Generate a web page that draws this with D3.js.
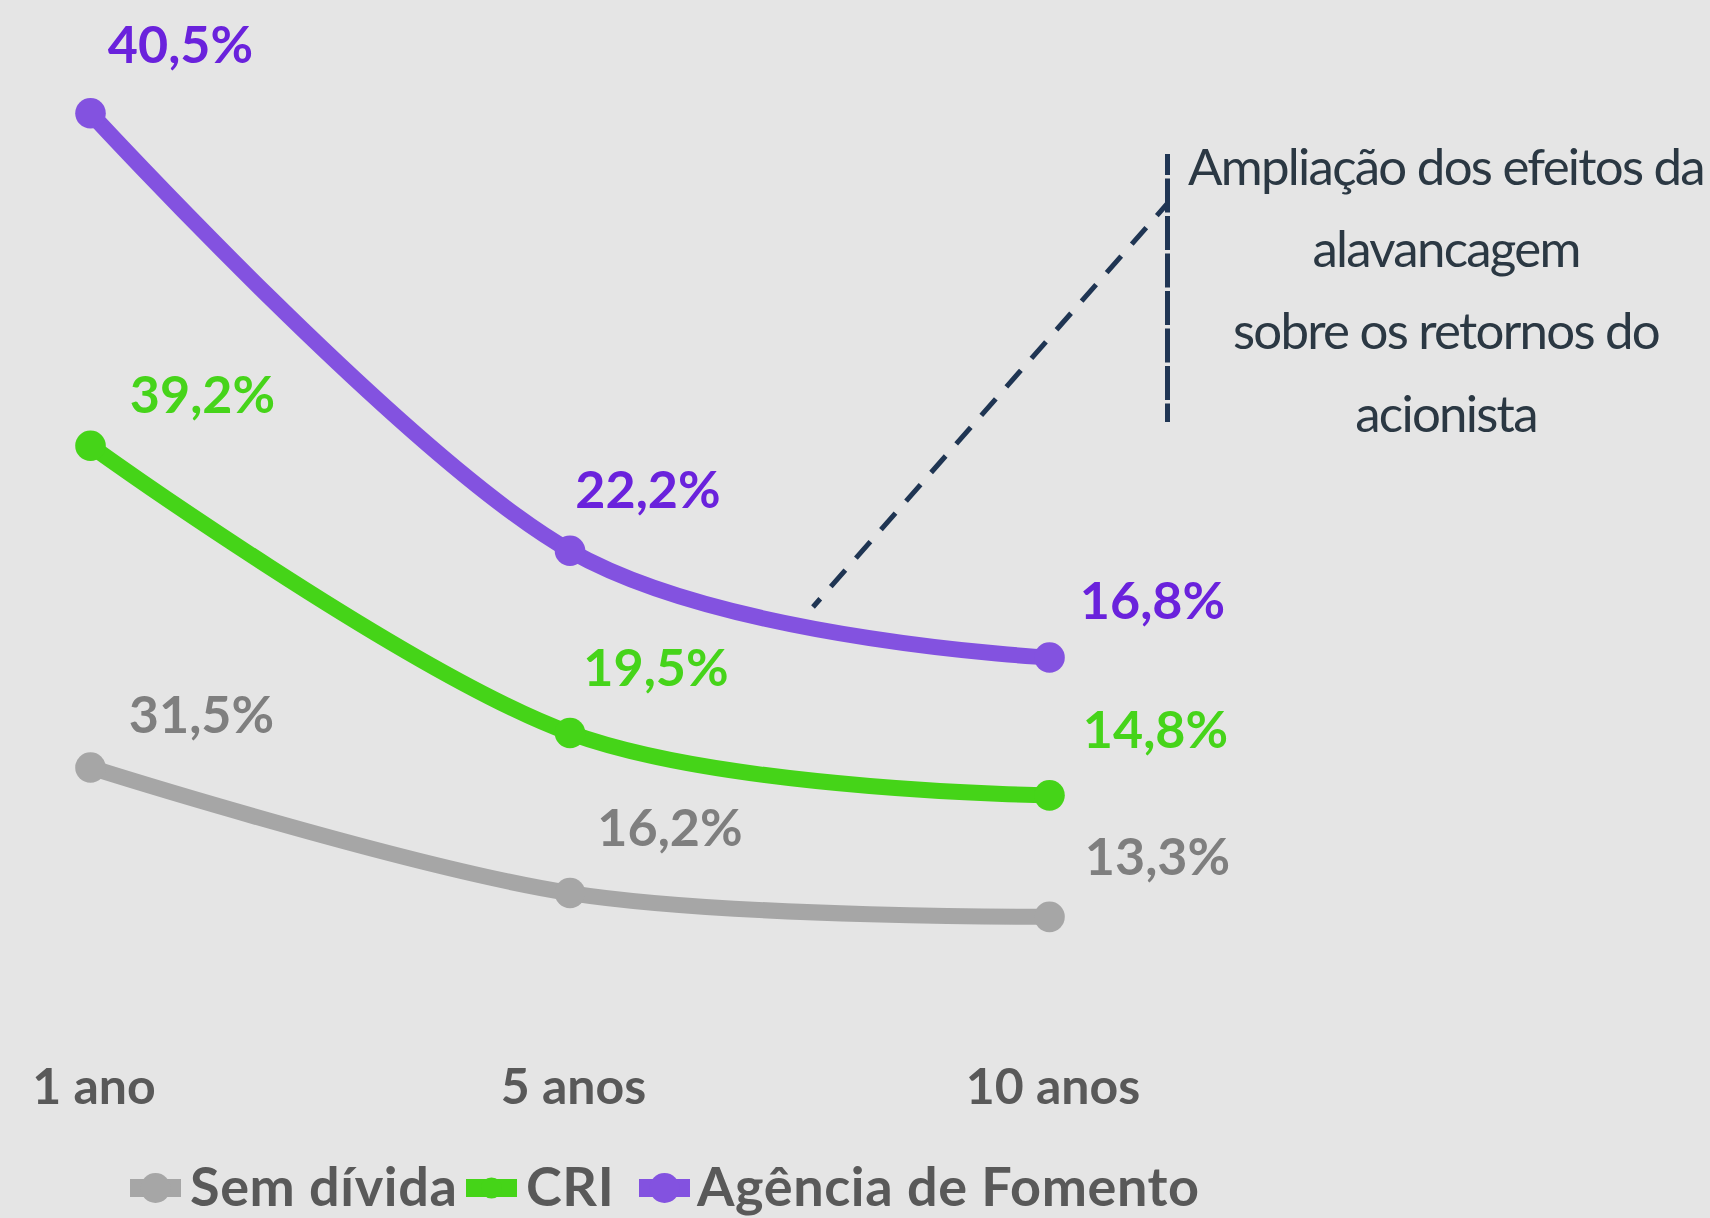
<!DOCTYPE html>
<html lang="pt">
<head>
<meta charset="utf-8">
<script src="https://cdn.jsdelivr.net/npm/d3@7"></script>
<style>
  html, body { margin: 0; padding: 0; background: #e5e5e5; }
  svg { display: block; }
  text { font-family: Lato, "Noto Sans", sans-serif; }
</style>
</head>
<body>
<svg id="chart" width="1710" height="1218"></svg>
<script>
// Categories (x axis) and series, in drawing order
const categories = ["1 ano", "5 anos", "10 anos"];
const seriesNames = ["Sem dívida", "CRI", "Agência de Fomento"];

// Return for each scenario (%), per series
const semDivida = [31.5, 16.2, 13.3];
const cri = [39.2, 19.5, 14.8];
const agenciaFomento = [40.5, 22.2, 16.8];

// Annotation text lines
const noteLines = ["Ampliação dos efeitos da", "alavancagem", "sobre os retornos do", "acionista"];

// Styling per series
const lineColors = { "Sem dívida": "#a6a6a6", "CRI": "#45d418", "Agência de Fomento": "#8352e0" };
const labelColors = { "Sem dívida": "#7f7f7f", "CRI": "#46d41a", "Agência de Fomento": "#6a22dc" };
const legendMarkerR = { "Sem dívida": 15, "CRI": 10.5, "Agência de Fomento": 15 };

// Manual label nudges (dx to label centre, dy to baseline) per series and category
const labelNudge = {
  "Sem dívida":         [[111, -34], [100, -47], [108, -42]],
  "CRI":                [[112, -33], [86, -47], [106, -47]],
  "Agência de Fomento": [[90, -50], [78, -43], [103, -38]]
};

const rows = categories.map((c, i) => ({
  cat: c,
  "Sem dívida": semDivida[i],
  "CRI": cri[i],
  "Agência de Fomento": agenciaFomento[i]
}));

const W = 1710, H = 1218;
const svg = d3.select("#chart");
svg.append("rect").attr("width", W).attr("height", H).attr("fill", "#e5e5e5");

// Stacked line chart
const stacked = d3.stack().keys(seriesNames)(rows);

const x = d3.scalePoint().domain(categories).range([90.5, 1049.5]).padding(0);
const y = d3.scaleLinear().domain([0, 125]).range([1026, 0]);

const ptBR = d3.formatLocale({ decimal: ",", thousands: ".", grouping: [3], currency: ["R$", ""] });
const fmt = v => ptBR.format(".1f")(v) + "%";

const line = d3.line()
  .x(d => x(d.data.cat))
  .y(d => y(d[1]))
  .curve(d3.curveCardinal.tension(0));

const gSeries = svg.append("g").selectAll("g").data(stacked).join("g");

gSeries.append("path")
  .attr("d", line)
  .attr("fill", "none")
  .attr("stroke", s => lineColors[s.key])
  .attr("stroke-width", 16)
  .attr("stroke-linecap", "butt");

gSeries.selectAll("circle")
  .data(s => s.map(d => ({ key: s.key, d })))
  .join("circle")
  .attr("cx", p => x(p.d.data.cat))
  .attr("cy", p => y(p.d[1]))
  .attr("r", 15.3)
  .attr("fill", p => lineColors[p.key]);

// Value labels (own value of each series, placed at stacked position)
gSeries.selectAll("text")
  .data(s => s.map((d, i) => ({ key: s.key, d, i })))
  .join("text")
  .attr("x", p => x(p.d.data.cat) + labelNudge[p.key][p.i][0])
  .attr("y", p => y(p.d[1]) + labelNudge[p.key][p.i][1])
  .attr("text-anchor", "middle")
  .attr("font-size", 52)
  .attr("font-weight", 700)
  .attr("fill", p => labelColors[p.key])
  .text(p => fmt(p.d.data[p.key]));

// Category axis labels
const xAxis = d3.axisBottom(x).tickSize(0).tickPadding(0);
const gx = svg.append("g").attr("transform", "translate(3,1104)").call(xAxis);
gx.select(".domain").remove();
gx.selectAll("text")
  .attr("dy", 0)
  .attr("y", 0)
  .attr("font-family", "Lato, sans-serif")
  .attr("font-size", 50)
  .attr("font-weight", 700)
  .attr("fill", "#595959");

// Annotation: dashed leader and bracket line
const noteColor = "#1f3553";
svg.append("line")
  .attr("x1", 813).attr("y1", 607).attr("x2", 1167).attr("y2", 204)
  .attr("stroke", noteColor).attr("stroke-width", 5)
  .attr("stroke-dasharray", "22 16").attr("stroke-dashoffset", 11);
svg.append("line")
  .attr("x1", 1167.5).attr("y1", 154).attr("x2", 1167.5).attr("y2", 422)
  .attr("stroke", noteColor).attr("stroke-width", 5)
  .attr("stroke-dasharray", "34 3.5").attr("stroke-dashoffset", 13);

svg.append("g")
  .selectAll("text")
  .data(noteLines)
  .join("text")
  .attr("x", 1446)
  .attr("y", (d, i) => 185 + i * 82.2)
  .attr("text-anchor", "middle")
  .attr("font-size", 51)
  .attr("font-weight", 400)
  .attr("letter-spacing", -1.75)
  .attr("fill", "#2b3843")
  .text(d => d);

// Legend
const legendX = [130, 466, 639];
const legend = svg.append("g").selectAll("g").data(seriesNames).join("g")
  .attr("transform", (d, i) => `translate(${legendX[i]},1188)`);
legend.append("line")
  .attr("x1", 0).attr("x2", 51).attr("y1", 0).attr("y2", 0)
  .attr("stroke", d => lineColors[d]).attr("stroke-width", 18);
legend.append("circle")
  .attr("cx", 25.5).attr("cy", 0).attr("r", d => legendMarkerR[d])
  .attr("fill", d => lineColors[d]);
legend.append("text")
  .attr("x", (d, i) => i === 2 ? 58 : 60)
  .attr("y", 18)
  .attr("font-size", 54)
  .attr("font-weight", 700)
  .attr("letter-spacing", 0.6)
  .attr("fill", "#595959")
  .text(d => d);
</script>
</body>
</html>
